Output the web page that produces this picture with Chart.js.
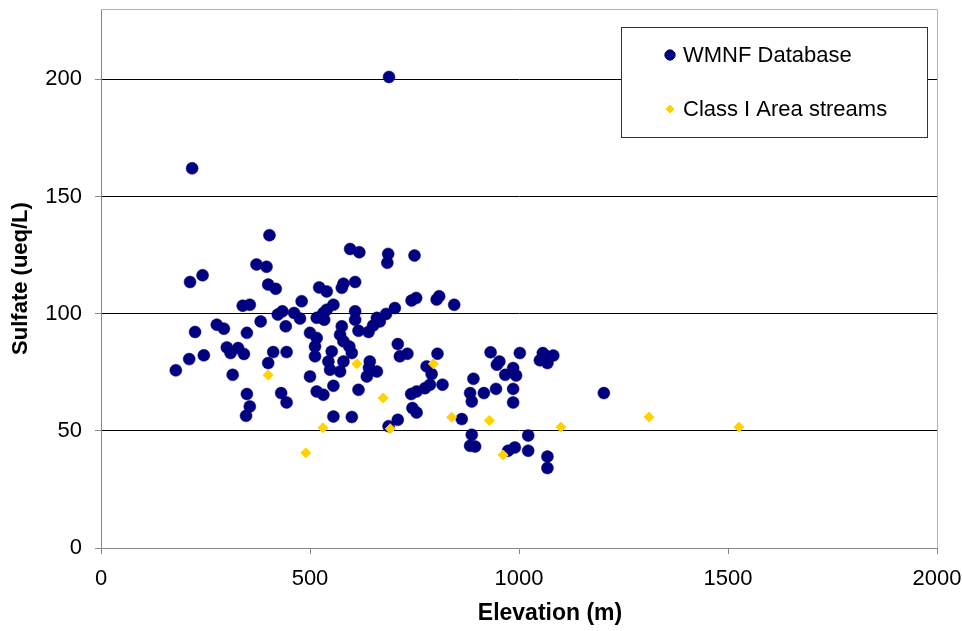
<!DOCTYPE html>
<html>
<head>
<meta charset="utf-8">
<title>Sulfate vs Elevation</title>
<script src="https://cdn.jsdelivr.net/npm/chart.js@4/dist/chart.umd.min.js"></script>
<style>
  html, body { margin: 0; padding: 0; background: #fff; }
  canvas { display: block; }
</style>
</head>
<body>
<canvas id="grafico" width="962" height="631"></canvas>
<script>
// WMNF database streams: elevation (m) and sulfate (ueq/L)
const wmnfElevation = [
  218, 689,
  403, 372, 396, 213, 243, 400, 418, 522, 540, 480, 339, 356, 423, 434, 462, 476, 516, 532,
  534, 540, 382, 225, 277, 294, 349, 442, 500, 516, 512, 301, 328, 310, 342, 211, 246, 412,
  444, 400, 179, 315, 500, 512, 548, 552, 544, 580, 572, 516, 532, 349, 356, 347, 431, 444,
  596, 618, 687, 685, 750, 576, 580, 608, 556, 608, 608, 616, 640, 660, 667, 651, 682, 703,
  743, 754, 803, 809, 845, 576, 572, 580, 594, 600, 643, 641, 660, 636,
  710, 715, 733, 805, 779, 791, 787, 817, 775, 755, 742, 556, 616, 891, 883, 887, 745, 755,
  556, 600, 710, 688,
  932, 953, 947, 1002, 1057, 1066, 1050, 1068, 1082, 986, 967, 993, 916, 945, 986, 986, 1203,
  863, 887, 883, 895, 974, 990, 1022, 1022, 1068, 1068
];
const wmnfSulfate = [
  162, 201,
  133.5, 121, 120, 113.5, 116.4, 112.4, 110.6, 111.2, 109.5, 105.3, 103.4, 103.8, 99.6, 101, 100.3, 97.9, 98.2, 100.3,
  97.4, 101.7, 96.7, 92.2, 95.3, 93.6, 91.8, 94.6, 91.8, 89.6, 86, 85.6, 85.3, 83.2, 82.8, 80.6, 82.2, 83.6,
  83.6, 78.9, 75.8, 73.9, 73.2, 81.8, 76.1, 83.9, 79.6, 79.6, 75.3, 66.8, 65.4, 65.7, 60.4, 56.4, 66.1, 62.1,
  127.6, 126.2, 125.5, 121.7, 124.8, 111, 112.8, 113.5, 103.8, 101, 97.4, 92.7, 92.2, 98.2, 96.7, 94.9, 99.9, 102.4,
  105.6, 106.7, 106, 107.4, 103.8, 94.6, 91, 88.2, 86, 83.2, 79.6, 76.9, 75.3, 73.2,
  87, 81.8, 82.9, 82.9, 77.5, 74.2, 69.7, 69.7, 68.2, 66.8, 65.7, 69.2, 67.5, 72.2, 66.1, 62.5, 59.7, 57.8,
  56.1, 55.9, 54.7, 52,
  83.5, 79.6, 78.2, 83.2, 83.2, 81.8, 80.1, 78.9, 82.1, 76.8, 73.9, 73.6, 66.1, 67.9, 67.9, 62.1, 66.1,
  55, 48.3, 43.6, 43.3, 41.5, 42.9, 48, 41.5, 39, 34.1
];

// Class I area streams
const classIElevation = [400, 612, 795, 675, 839, 929, 1100, 962, 1311, 1526, 531, 490, 692];
const classISulfate = [73.8, 78.6, 78.6, 64, 55.8, 54.4, 51.6, 39.7, 55.9, 51.6, 51.3, 40.6, 50.9];

// axis settings
const xTicks = [0, 500, 1000, 1500, 2000];
const yTicks = [0, 50, 100, 150, 200];
const yMax = 230;
const xTitle = 'Elevation (m)';

const fonte = 'Liberation Sans, Arial, sans-serif';
const corEixo = '#868686';

function pares(xs, ys) {
  return xs.map((x, i) => ({ x: x, y: ys[i] }));
}

// plot border (top/right), x title (sits right of centre) and the boxed legend
const moldura = {
  id: 'moldura',
  afterDraw(chart) {
    const { ctx, chartArea } = chart;
    ctx.save();
    ctx.strokeStyle = '#b4b4b4';
    ctx.lineWidth = 1;
    ctx.beginPath();
    ctx.moveTo(chartArea.left, chartArea.top + 0.5);
    ctx.lineTo(chartArea.right + 0.5, chartArea.top + 0.5);
    ctx.lineTo(chartArea.right + 0.5, chartArea.bottom);
    ctx.stroke();

    ctx.fillStyle = '#000';
    ctx.font = 'bold 23px ' + fonte;
    ctx.textAlign = 'center';
    ctx.textBaseline = 'middle';
    ctx.fillText(xTitle, (chartArea.left + chartArea.right) / 2 + 31, chart.height - 17);

    // legend box
    const w = 306, h = 110;
    const bx = chartArea.right - 10 - w;
    const by = chartArea.top + 18;
    ctx.fillStyle = '#fff';
    ctx.fillRect(bx, by, w, h);
    ctx.strokeStyle = '#333';
    ctx.strokeRect(bx + 0.5, by + 0.5, w, h);

    ctx.font = '22px ' + fonte;
    ctx.textBaseline = 'middle';
    ctx.textAlign = 'left';
    chart.data.datasets.forEach((ds, i) => {
      const yy = by + 28 + i * 54;
      Chart.helpers.drawPoint(ctx, {
        pointStyle: ds.pointStyle,
        radius: i === 0 ? 5 : 4,
        rotation: 0,
        borderWidth: 1
      }, bx + 49, yy);
      ctx.fillStyle = ds.backgroundColor;
      ctx.strokeStyle = ds.borderColor;
      ctx.fill();
      ctx.stroke();
      ctx.fillStyle = '#000';
      ctx.fillText(ds.label, bx + 62, yy + 1);
    });
    ctx.restore();
  }
};

new Chart(document.getElementById('grafico'), {
  type: 'scatter',
  data: {
    datasets: [{
      label: 'WMNF Database',
      data: pares(wmnfElevation, wmnfSulfate),
      pointStyle: 'circle',
      pointRadius: 6,
      borderWidth: 0.5,
      backgroundColor: '#000080',
      borderColor: '#000080',
      order: 2
    }, {
      label: 'Class I Area streams',
      data: pares(classIElevation, classISulfate),
      pointStyle: 'rectRot',
      pointRadius: 5,
      borderWidth: 1,
      backgroundColor: '#FFD200',
      borderColor: '#FFD200',
      order: 1
    }]
  },
  options: {
    responsive: false,
    animation: false,
    events: [],
    layout: { padding: { top: 9, right: 25, left: 0, bottom: 0 } },
    plugins: {
      legend: { display: false },
      tooltip: { enabled: false }
    },
    scales: {
      x: {
        type: 'linear',
        min: xTicks[0],
        max: xTicks[xTicks.length - 1],
        afterBuildTicks: (scale) => { scale.ticks = xTicks.map(v => ({ value: v })); },
        afterFit: (scale) => {
          scale.height = 83;
          scale.paddingLeft = 0;
          scale.paddingRight = 0;
        },
        border: { color: corEixo, width: 1 },
        grid: { drawOnChartArea: false, drawTicks: true, tickLength: 6, tickColor: corEixo },
        ticks: {
          color: '#000',
          font: { family: fonte, size: 22 },
          padding: 12,
          callback: (v) => String(v)
        },
        title: { display: false }
      },
      y: {
        type: 'linear',
        min: yTicks[0],
        max: yMax,
        afterBuildTicks: (scale) => { scale.ticks = yTicks.map(v => ({ value: v })); },
        afterFit: (scale) => {
          scale.width = 101;
          scale.paddingTop = 0;
          scale.paddingBottom = 0;
        },
        border: { color: corEixo, width: 1 },
        grid: {
          color: (c) => c.tick && c.tick.value === 0 ? 'rgba(0,0,0,0)' : '#000',
          lineWidth: 1,
          tickLength: 6,
          tickColor: corEixo
        },
        ticks: {
          color: '#000',
          font: { family: fonte, size: 22 },
          padding: 13,
          callback: (v) => String(v)
        },
        title: {
          display: true,
          text: 'Sulfate (ueq/L)',
          color: '#000',
          font: { family: fonte, size: 22, weight: 'bold', lineHeight: 1.2 },
          padding: { top: 8, bottom: 0 }
        }
      }
    }
  },
  plugins: [moldura]
});
</script>
</body>
</html>
